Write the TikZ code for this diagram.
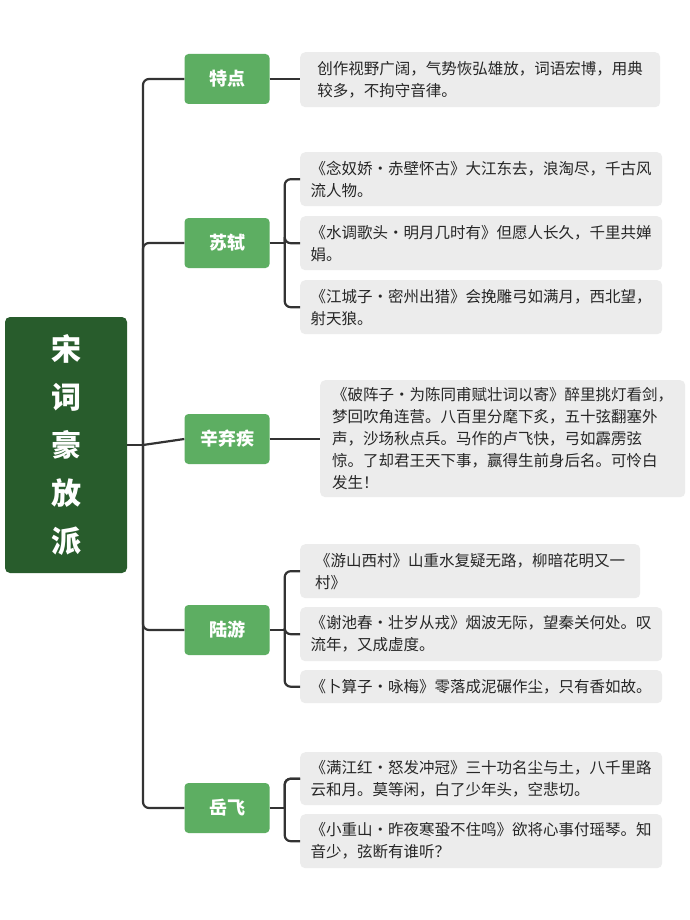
\documentclass[tikz,border=0pt]{standalone}
\usepackage{fontspec}
\newfontfamily\cjk{Noto Sans CJK SC}
\definecolor{dk}{HTML}{285C2C}
\definecolor{lg}{HTML}{5DAE62}
\definecolor{gy}{HTML}{ECECEC}
\definecolor{ln}{HTML}{333333}
\begin{document}
\begin{tikzpicture}[x=1pt,y=-1pt,
 cat/.style={fill=lg,rounded corners=4pt,minimum width=85pt,minimum height=50pt,text=white,font=\cjk\bfseries\fontsize{18}{20}\selectfont},
 leaf/.style={fill=gy,rounded corners=5pt,anchor=north west,align=left,inner xsep=6pt,inner ysep=5pt,font=\cjk\fontsize{15.5}{22}\selectfont,text=black!85},
 conn/.style={draw=ln,line width=2.2pt,rounded corners=6pt}]
\useasboundingbox (0,0) rectangle (690,920);
\fill[white] (0,0) rectangle (690,920);
\node[fill=dk,rounded corners=5pt,minimum width=122pt,minimum height=256pt,text=white,align=center,font=\cjk\bfseries\fontsize{30}{48}\selectfont] (root) at (66,445) {宋\\词\\豪\\放\\派};
\node[cat] (c1) at (227,79) {特点};
\node[cat] (c2) at (227,243) {苏轼};
\node[cat] (c3) at (227,439) {辛弃疾};
\node[cat] (c4) at (227,630) {陆游};
\node[cat] (c5) at (227,808) {岳飞};
\node[leaf,minimum width=360pt,minimum height=55pt] (l1) at (300,52) {创作视野广阔，气势恢弘雄放，词语宏博，用典\\较多，不拘守音律。};
\node[leaf,minimum width=362pt,minimum height=54pt] (l21) at (300,152) {《念奴娇·赤壁怀古》大江东去，浪淘尽，千古风\\流人物。};
\node[leaf,minimum width=362pt,minimum height=54pt] (l22) at (300,216) {《水调歌头·明月几时有》但愿人长久，千里共婵\\娟。};
\node[leaf,minimum width=362pt,minimum height=54pt] (l23) at (300,280) {《江城子·密州出猎》会挽雕弓如满月，西北望，\\射天狼。};
\node[leaf,minimum width=365pt,minimum height=117pt] (l3) at (320,380) {《破阵子·为陈同甫赋壮词以寄》醉里挑灯看剑，\\梦回吹角连营。八百里分麾下炙，五十弦翻塞外\\声，沙场秋点兵。马作的卢飞快，弓如霹雳弦\\惊。了却君王天下事，赢得生前身后名。可怜白\\发生！};
\node[leaf,minimum width=340pt,minimum height=54pt] (l41) at (300,544) {《游山西村》山重水复疑无路，柳暗花明又一\\村》};
\node[leaf,minimum width=362pt,minimum height=54pt] (l42) at (300,607) {《谢池春·壮岁从戎》烟波无际，望秦关何处。叹\\流年，又成虚度。};
\node[leaf,minimum width=362pt,minimum height=33pt] (l43) at (300,670) {《卜算子·咏梅》零落成泥碾作尘，只有香如故。};
\node[leaf,minimum width=362pt,minimum height=53pt] (l51) at (300,752) {《满江红·怒发冲冠》三十功名尘与土，八千里路\\云和月。莫等闲，白了少年头，空悲切。};
\node[leaf,minimum width=362pt,minimum height=54pt] (l52) at (300,814) {《小重山·昨夜寒蛩不住鸣》欲将心事付瑶琴。知\\音少，弦断有谁听？};
\coordinate (tr) at (143,445);
\draw[conn] (root.east) -- (tr);
\draw[conn] (c1.west) -| (tr) |- (c5.west);
\draw[conn] (tr) -- (c2.west-|tr) -- (c2.west);
\draw[conn] (tr) -- (c3.west);
\draw[conn] (tr) -- (c4.west-|tr) -- (c4.west);
\draw[conn] (c1.east) -- (l1.west|-c1.east);
\draw[conn] (c3.east) -- (l3.west|-c3.east);
\foreach \c/\a/\b/\m in {c2/l21/l23/l22,c4/l41/l43/l42,c5/l51/l52/l51}{
 \draw[conn] (\c.east) -- ++(15,0) coordinate (b);
 \draw[conn] (\a.west) -| (b) |- (\b.west);
 \draw[conn] (b) |- (\m.west);
}
\end{tikzpicture}
\end{document}
